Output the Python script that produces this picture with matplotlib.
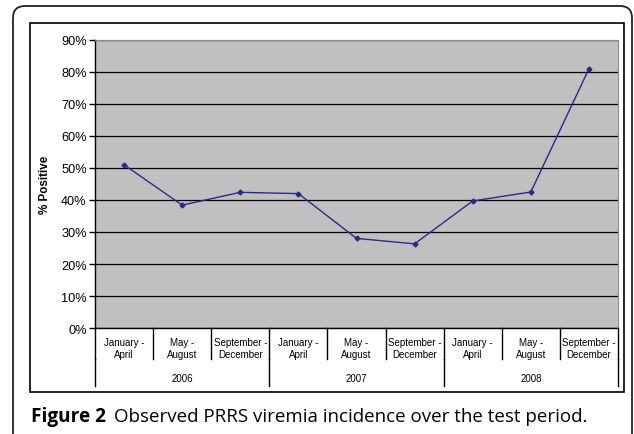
import numpy as np
import matplotlib.pyplot as plt
from matplotlib.patches import FancyBboxPatch, Rectangle
from matplotlib.lines import Line2D
from matplotlib.ticker import PercentFormatter

periods = ['January -\nApril', 'May -\nAugust', 'September -\nDecember'] * 3
years = ['2006', '2007', '2008']
positive = [51.0, 38.4, 42.4, 42.0, 28.0, 26.3, 39.7, 42.5, 81.0]

plt.rcParams['font.family'] = ['Liberation Sans', 'DejaVu Sans']

fig = plt.figure(figsize=(6.34, 4.35), dpi=100)

# background layer in pixel units (y down) for the frames and caption
bg = fig.add_axes([0, 0, 1, 1])
bg.set_xlim(0, 634)
bg.set_ylim(435, 0)
bg.axis('off')
bg.add_patch(FancyBboxPatch((13, 7), 619, 445, boxstyle='round,pad=0,rounding_size=12',
                            fc='white', ec='#222222', lw=1.3))
bg.add_patch(Rectangle((30, 24), 594, 369, fc='white', ec='black', lw=1.2))
bg.text(31, 422, 'Figure 2', family='Open Sans', weight='bold', fontsize=13.7, va='baseline')
bg.text(114, 422, 'Observed PRRS viremia incidence over the test period.',
        family='Open Sans', fontsize=13.5, va='baseline')

W, H = 634, 435
left, top, right, bottom = 95, 41, 618, 329
ax = fig.add_axes([left / W, 1 - bottom / H, (right - left) / W, (bottom - top) / H])
ax.set_facecolor('#C0C0C0')

x = np.arange(len(positive))
ax.plot(x, positive, '-D', color='#2B2B86', lw=1.0, ms=2.5, zorder=3)

ax.set_xlim(-0.5, len(positive) - 0.5)
ax.set_ylim(0, 90)
ax.set_yticks(np.arange(0, 91, 10))
ax.yaxis.set_major_formatter(PercentFormatter(decimals=0))
ax.tick_params(axis='y', direction='out', length=4, width=1, labelsize=9.2, pad=2)
ax.set_xticks([])
ax.yaxis.grid(True, color='black', lw=0.9)
ax.set_axisbelow(True)
for s in ['top', 'right']:
    ax.spines[s].set_color('#8C8C8C')
ax.spines['left'].set_linewidth(1)
ax.spines['bottom'].set_linewidth(1)
ax.set_ylabel('% Positive', fontsize=8.4, weight='bold', labelpad=7)

# two-level category axis
ph = bottom - top
tr = ax.get_xaxis_transform()
for i, lab in enumerate(periods):
    ax.text(i, -20 / ph, lab, transform=tr, ha='center', va='center',
            fontsize=7, linespacing=1.2)
for i in range(len(positive) + 1):
    ax.add_line(Line2D([i - 0.5, i - 0.5], [0, -31 / ph], transform=tr,
                       color='black', lw=1, clip_on=False))
for j, yr in enumerate(years):
    ax.text(3 * j + 1, -50 / ph, yr, transform=tr, ha='center', va='center', fontsize=7)
for b in [-0.5, 2.5, 5.5, 8.5]:
    ax.add_line(Line2D([b, b], [-31 / ph, -58 / ph], transform=tr,
                       color='black', lw=1, clip_on=False))

plt.savefig('out.png', dpi=100)
